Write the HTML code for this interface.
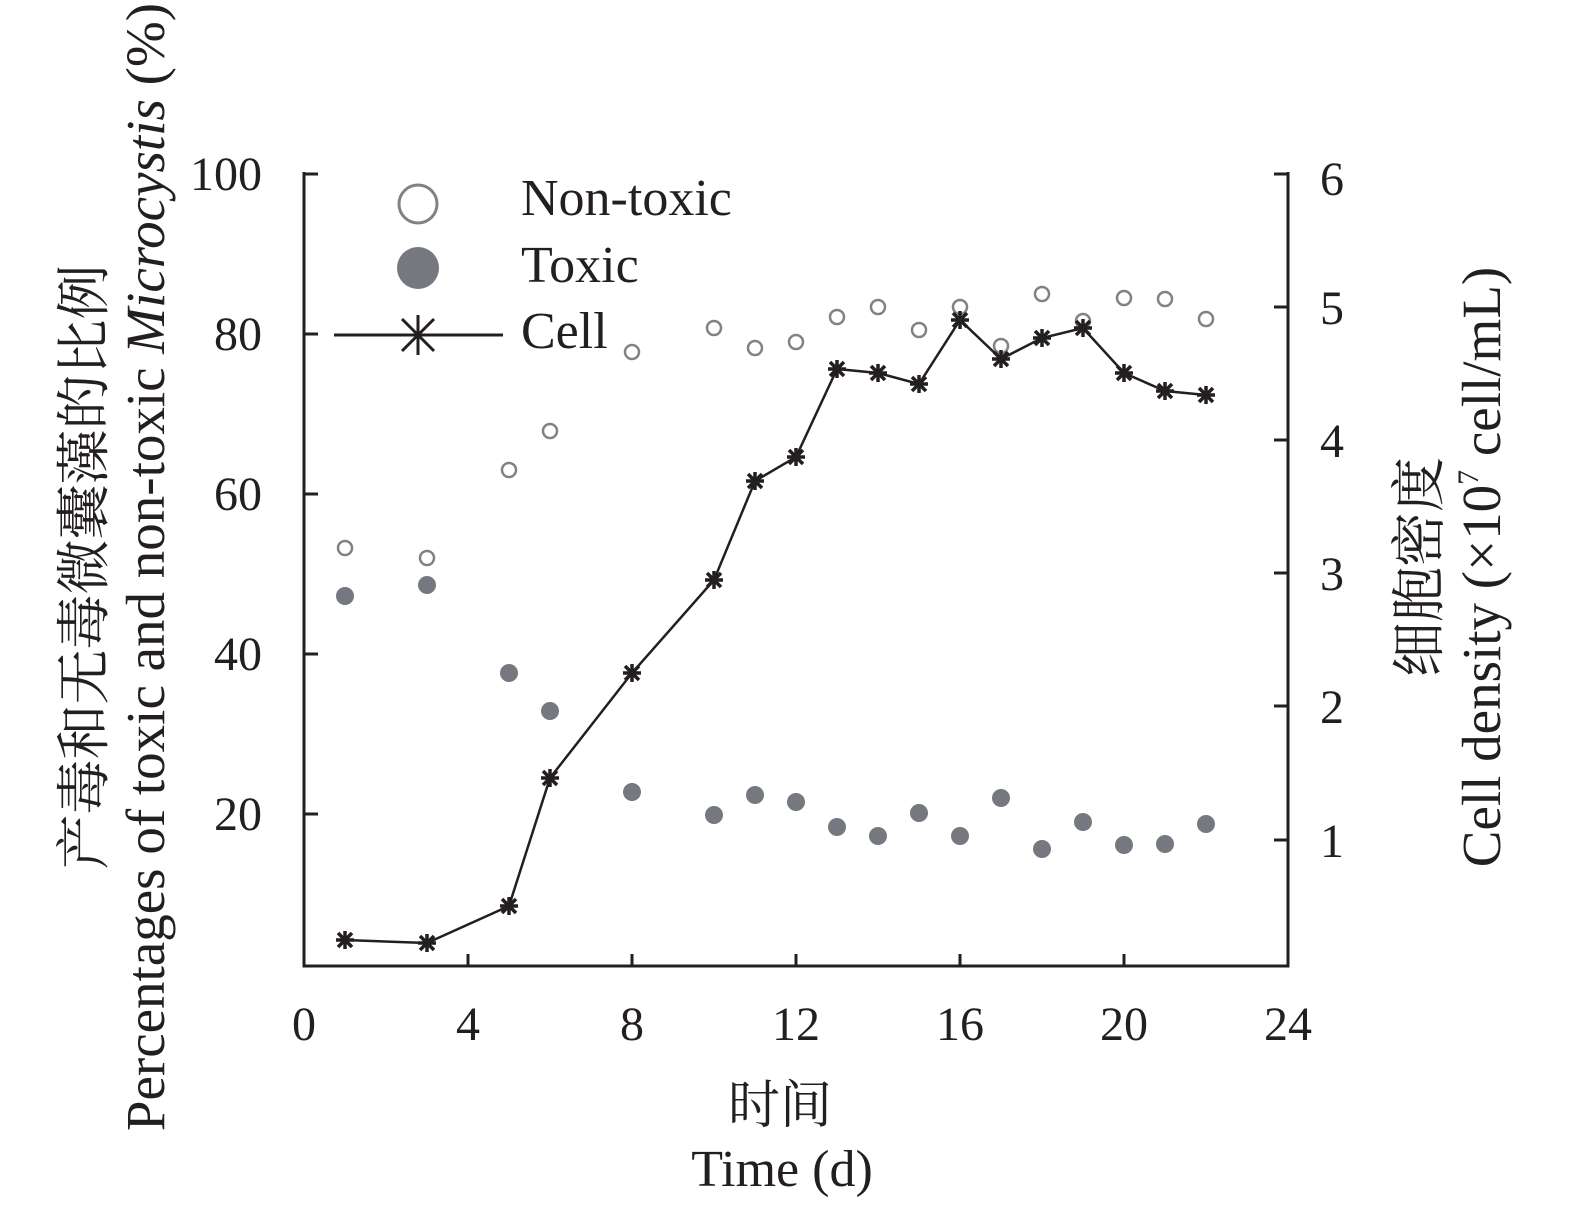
<!DOCTYPE html>
<html><head><meta charset="utf-8"><style>
html,body{margin:0;padding:0;background:#fff;}
svg{display:block;}
text{font-family:"Liberation Serif","Noto Serif CJK SC",serif;fill:#231f20;}
</style></head><body>
<svg width="1575" height="1209" viewBox="0 0 1575 1209" xmlns="http://www.w3.org/2000/svg">
<g stroke="#231f20" stroke-width="3" fill="none">
<polyline points="304,172 304,966 1288,966 1288,172"/>
<line x1="304" y1="334" x2="318" y2="334"/><line x1="304" y1="494" x2="318" y2="494"/>
<line x1="304" y1="654" x2="318" y2="654"/><line x1="304" y1="814" x2="318" y2="814"/>
<line x1="304" y1="174" x2="318" y2="174"/>
<line x1="1288" y1="174" x2="1274" y2="174"/><line x1="1288" y1="307" x2="1274" y2="307"/>
<line x1="1288" y1="440" x2="1274" y2="440"/><line x1="1288" y1="573" x2="1274" y2="573"/>
<line x1="1288" y1="706" x2="1274" y2="706"/><line x1="1288" y1="840" x2="1274" y2="840"/>
<line x1="468" y1="966" x2="468" y2="954"/><line x1="632" y1="966" x2="632" y2="954"/>
<line x1="796" y1="966" x2="796" y2="954"/><line x1="960" y1="966" x2="960" y2="954"/>
<line x1="1124" y1="966" x2="1124" y2="954"/>
</g>
<g font-size="48" text-anchor="end">
<text x="262" y="190">100</text><text x="262" y="350">80</text><text x="262" y="510">60</text>
<text x="262" y="670">40</text><text x="262" y="830">20</text>
</g>
<g font-size="48">
<text x="1320" y="195">6</text><text x="1320" y="324">5</text><text x="1320" y="457">4</text>
<text x="1320" y="590">3</text><text x="1320" y="723">2</text><text x="1320" y="857">1</text>
</g>
<g font-size="48" text-anchor="middle">
<text x="304" y="1040">0</text><text x="468" y="1040">4</text><text x="632" y="1040">8</text>
<text x="796" y="1040">12</text><text x="960" y="1040">16</text><text x="1124" y="1040">20</text><text x="1288" y="1040">24</text>
<text x="780" y="1123" font-size="52">时间</text>
<text x="782" y="1186" font-size="52">Time (d)</text>
</g>
<text transform="translate(103,567) rotate(-90)" font-size="55" text-anchor="middle">产毒和无毒微囊藻的比例</text>
<text transform="translate(164,567) rotate(-90)" font-size="55" text-anchor="middle">Percentages of toxic and non-toxic <tspan font-style="italic">Microcystis</tspan> (%)</text>
<text transform="translate(1438,567) rotate(-90)" font-size="55" text-anchor="middle">细胞密度</text>
<text transform="translate(1500,567) rotate(-90)" font-size="55" text-anchor="middle">Cell density (×10<tspan font-size="30" dy="-22">7</tspan><tspan dy="22"> cell/mL)</tspan></text>
<!-- legend -->
<circle cx="418" cy="204" r="19" fill="none" stroke="#808285" stroke-width="3"/>
<circle cx="418" cy="268" r="21" fill="#76787f"/>
<line x1="334" y1="335" x2="503" y2="335" stroke="#231f20" stroke-width="3"/>
<g stroke="#231f20" stroke-width="3"><line x1="398" y1="335" x2="438" y2="335"/><line x1="418" y1="315" x2="418" y2="355"/><line x1="402" y1="319" x2="434" y2="351"/><line x1="402" y1="351" x2="434" y2="319"/></g>
<g font-size="52"><text x="521" y="215">Non-toxic</text><text x="521" y="282">Toxic</text><text x="521" y="348">Cell</text></g>
<g fill="none" stroke="#808285" stroke-width="2.5">
<circle cx="345" cy="548" r="7"/><circle cx="427" cy="558" r="7"/><circle cx="509" cy="470" r="7"/><circle cx="550" cy="431" r="7"/>
<circle cx="632" cy="352" r="7"/><circle cx="714" cy="328" r="7"/><circle cx="755" cy="348" r="7"/><circle cx="796" cy="342" r="7"/>
<circle cx="837" cy="317" r="7"/><circle cx="878" cy="307" r="7"/><circle cx="919" cy="330" r="7"/><circle cx="960" cy="307" r="7"/>
<circle cx="1001" cy="346" r="7"/><circle cx="1042" cy="294" r="7"/><circle cx="1083" cy="321" r="7"/><circle cx="1124" cy="298" r="7"/>
<circle cx="1165" cy="299" r="7"/><circle cx="1206" cy="319" r="7"/>
</g>
<g fill="#76787f">
<circle cx="345" cy="596" r="9"/><circle cx="427" cy="585" r="9"/><circle cx="509" cy="673" r="9"/><circle cx="550" cy="711" r="9"/>
<circle cx="632" cy="792" r="9"/><circle cx="714" cy="815" r="9"/><circle cx="755" cy="795" r="9"/><circle cx="796" cy="802" r="9"/>
<circle cx="837" cy="827" r="9"/><circle cx="878" cy="836" r="9"/><circle cx="919" cy="813" r="9"/><circle cx="960" cy="836" r="9"/>
<circle cx="1001" cy="798" r="9"/><circle cx="1042" cy="849" r="9"/><circle cx="1083" cy="822" r="9"/><circle cx="1124" cy="845" r="9"/>
<circle cx="1165" cy="844" r="9"/><circle cx="1206" cy="824" r="9"/>
</g>
<polyline fill="none" stroke="#231f20" stroke-width="2.5" points="345,940 427,943 509,906 550,778 632,673 714,580 755,481 796,457 837,369 878,373 919,384 960,320 1001,359 1042,338 1083,328 1124,373 1165,391 1206,395"/>
<defs><g id="s" stroke="#231f20" stroke-width="3.5"><line x1="-9" y1="0" x2="9" y2="0"/><line x1="0" y1="-9" x2="0" y2="9"/><line x1="-7" y1="-7" x2="7" y2="7"/><line x1="-7" y1="7" x2="7" y2="-7"/></g></defs>
<use href="#s" x="345" y="940"/><use href="#s" x="427" y="943"/><use href="#s" x="509" y="906"/><use href="#s" x="550" y="778"/>
<use href="#s" x="632" y="673"/><use href="#s" x="714" y="580"/><use href="#s" x="755" y="481"/><use href="#s" x="796" y="457"/>
<use href="#s" x="837" y="369"/><use href="#s" x="878" y="373"/><use href="#s" x="919" y="384"/><use href="#s" x="960" y="320"/>
<use href="#s" x="1001" y="359"/><use href="#s" x="1042" y="338"/><use href="#s" x="1083" y="328"/><use href="#s" x="1124" y="373"/>
<use href="#s" x="1165" y="391"/><use href="#s" x="1206" y="395"/>
</svg>
</body></html>
